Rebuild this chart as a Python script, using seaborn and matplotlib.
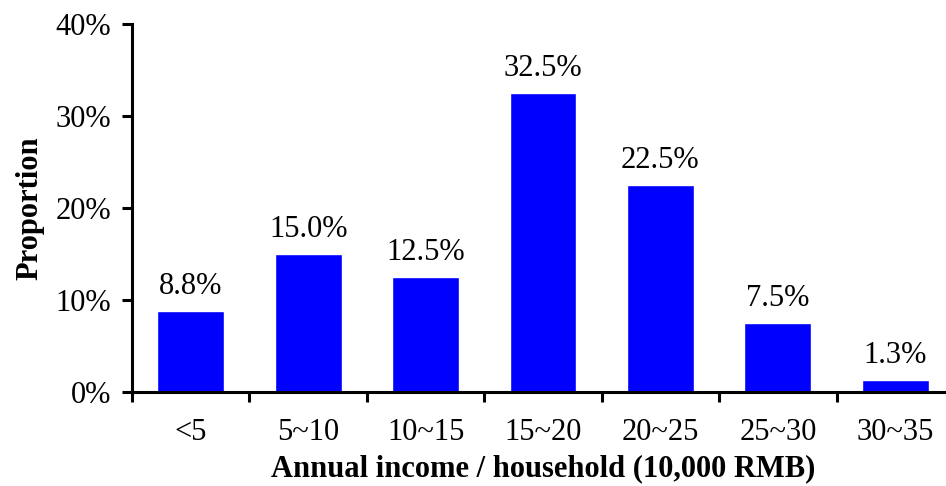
import matplotlib
matplotlib.use("Agg")
import matplotlib.pyplot as plt
import seaborn as sns
import pandas as pd
import numpy as np

categories = ["<5", "5~10", "10~15", "15~20", "20~25", "25~30", "30~35"]
proportions = [8.8, 15.0, 12.5, 32.5, 22.5, 7.5, 1.3]
y_ticks = [0, 10, 20, 30, 40]

sns.set_theme(style="white", rc={"text.color": "black", "axes.labelcolor": "black",
                                 "xtick.color": "black", "ytick.color": "black"})
plt.rcParams["font.family"] = ["Liberation Serif", "DejaVu Serif"]

df = pd.DataFrame({"income": categories, "share": proportions})

fig = plt.figure(figsize=(9.46, 4.86), dpi=100)
W, H = 946, 486
left, right, top, bottom = 132, 954, 24, 392
ax = fig.add_axes([left / W, 1 - bottom / H, (right - left) / W, (bottom - top) / H])

sns.barplot(data=df, x="income", y="share", color="#0000FF", saturation=1,
            width=0.57, ax=ax)

for i, v in enumerate(proportions):
    ax.text(i, v + 1.85, f"{v:.1f}%", ha="center", va="baseline", fontsize=22, color="black")

ax.set_xlim(-0.5, len(categories) - 0.5)
ax.set_ylim(0, 40)
ax.set_yticks(y_ticks)
ax.set_yticklabels([f"{t}%" for t in y_ticks], fontsize=22)
ax.set_xticks(range(len(categories)))
ax.set_xticklabels(categories, fontsize=22)
ax.set_xticks(np.arange(-0.5, len(categories) - 0.5 + 0.01, 1.0), minor=True)

ax.tick_params(axis="x", which="major", length=0, pad=19, labelcolor="black")
ax.tick_params(axis="x", which="minor", direction="out", length=7, width=2.2, color="black", bottom=True)
ax.tick_params(axis="y", direction="out", length=7, width=2.2, color="black", left=True, pad=8,
               labelcolor="black")

sns.despine(ax=ax)
for s in ("left", "bottom"):
    ax.spines[s].set_linewidth(2.2)
    ax.spines[s].set_color("black")

ax.set_xlabel("Annual income / household (10,000 RMB)", fontsize=22, fontweight="bold",
              labelpad=5, color="black")
ax.set_ylabel("Proportion", fontsize=22, fontweight="bold", labelpad=8, color="black")

fig.savefig("out.png", dpi=100)
